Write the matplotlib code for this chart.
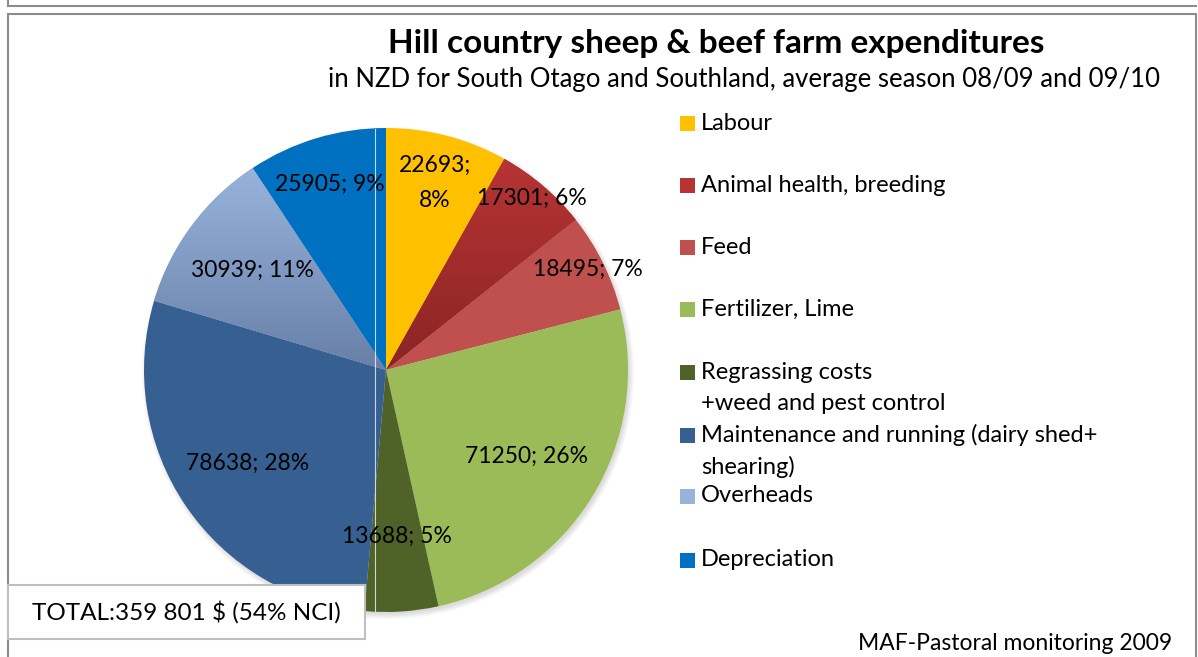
import matplotlib.pyplot as plt
import numpy as np
from matplotlib.colors import LinearSegmentedColormap
from matplotlib.patches import Rectangle, Circle

plt.rcParams['font.family'] = ['Lato', 'DejaVu Sans']

categories = ['Labour', 'Animal health, breeding', 'Feed', 'Fertilizer, Lime',
              'Regrassing costs\n+weed and pest control',
              'Maintenance and running (dairy shed+\nshearing)',
              'Overheads', 'Depreciation']
values = [22693, 17301, 18495, 71250, 13688, 78638, 30939, 25905]
percents = [8, 6, 7, 26, 5, 28, 11, 9]

colors = ['#FFC000', '#A52B2B', '#C0504D', '#9BBB59', '#4F6228', '#366092', '#7F97C0', '#0070C0']
# vertical gradients (top, bottom) for the shaded slices
gradients = {1: ('#B73434', '#8B2424'), 6: ('#97B3DC', '#6880A8')}
label_dist = [0.80, 0.93, 0.93, 0.68, 0.69, 0.69, 0.69, 0.80]

W, H = 1198, 657
fig = plt.figure(figsize=(W / 100, H / 100), dpi=100)
ax = fig.add_axes([0, 0, 1, 1])

cx, cy, r = 386, H - 370, 242

# soft shadow under the pie
for k in range(6):
    ax.add_patch(Circle((cx + 2, cy - 3), r + 4 - k, color='black', alpha=0.025, lw=0, zorder=1))

wedges, _ = ax.pie(values, center=(cx, cy), radius=r, startangle=90, counterclock=False,
                   colors=colors, wedgeprops=dict(linewidth=0))
for w in wedges:
    w.set_zorder(2)

for i, (top, bot) in gradients.items():
    w = wedges[i]
    v = w.get_path().vertices
    cmap = LinearSegmentedColormap.from_list('g%d' % i, [bot, top])
    grad = np.linspace(0, 1, 256).reshape(-1, 1)
    im = ax.imshow(grad, cmap=cmap, origin='lower', aspect='auto', zorder=3,
                   extent=(v[:, 0].min(), v[:, 0].max(), v[:, 1].min(), v[:, 1].max()))
    im.set_clip_path(w)

# thin light seam over the pie
ax.plot([375, 375], [cy - r + 1, cy + r - 1], color='white', lw=0.8, alpha=0.75, zorder=4)

# data labels
for i, w in enumerate(wedges):
    mid = np.deg2rad((w.theta1 + w.theta2) / 2)
    d = label_dist[i] * r
    sep = '\n' if i == 0 else ' '
    ax.text(cx + d * np.cos(mid), cy + d * np.sin(mid), '%d;%s%d%%' % (values[i], sep, percents[i]),
            ha='center', va='center', fontsize=16.5, linespacing=1.85, zorder=5)

# legend
legend_y = [123, 185, 247, 309, 388, 451, 496, 560]
marker_y = [123, 185, 247, 309, 372, 435, 496, 560]
for i, name in enumerate(categories):
    ax.add_patch(Rectangle((680, H - marker_y[i] - 7.5), 15, 15,
                           color=colors[i] if i not in gradients else gradients[i][0], lw=0, zorder=5))
    ax.text(701, H - legend_y[i], name, ha='left', va='center', fontsize=17, linespacing=1.55, zorder=5)

# titles
ax.text(716, H - 43, 'Hill country sheep & beef farm expenditures', ha='center', va='center',
        fontsize=24, fontweight='bold')
ax.text(744, H - 80, 'in NZD for South Otago and Southland, average season 08/09 and 09/10',
        ha='center', va='center', fontsize=18.5)

# total box
ax.add_patch(Rectangle((8, H - 639), 357, 54, facecolor='white', edgecolor='#BFBFBF', lw=1.5, zorder=6))
ax.text(186, H - 612, 'TOTAL:359 801 $ (54% NCI)', ha='center', va='center', fontsize=17.5, zorder=7)

ax.text(1172, H - 643, 'MAF-Pastoral monitoring 2009', ha='right', va='center', fontsize=16.5)

# chart frames
ax.plot([8, 1196], [H - 6, H - 6], color='#8C8C8C', lw=1.5)
ax.plot([8, 8], [H - 6, H], color='#8C8C8C', lw=1.5)
ax.plot([8, 1196, 1196], [H - 14, H - 14, 0], color='#8C8C8C', lw=1.5)
ax.plot([8, 8], [H - 14, 0], color='#8C8C8C', lw=1.5)

ax.set_xlim(0, W)
ax.set_ylim(0, H)
ax.set_aspect('auto')
ax.axis('off')

fig.savefig('out.png', dpi=100)
